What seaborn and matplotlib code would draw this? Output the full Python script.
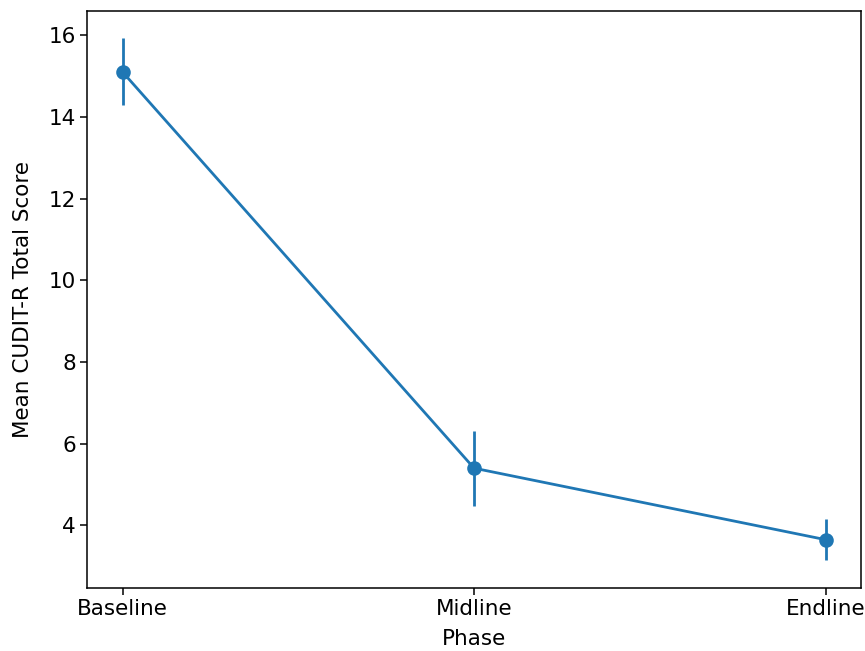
import matplotlib
matplotlib.use("Agg")
import matplotlib.pyplot as plt
import seaborn as sns
import numpy as np

# Values
phases = ["Baseline", "Midline", "Endline"]
mean_score = [15.10, 5.40, 3.65]
err_low = [14.30, 4.47, 3.15]
err_high = [15.94, 6.32, 4.16]

plt.rcParams["font.family"] = ["DejaVu Sans"]
plt.rcParams["font.size"] = 15.5

fig, ax = plt.subplots(figsize=(8.65, 6.51), dpi=100)
fig.subplots_adjust(left=0.101, right=0.995, top=0.983, bottom=0.097)

color = "#1f77b4"
sns.pointplot(x=phases, y=mean_score, errorbar=None, color=color,
              markersize=9, linewidth=2.0, ax=ax)

mean_arr = np.array(mean_score)
yerr = [mean_arr - np.array(err_low), np.array(err_high) - mean_arr]
ax.errorbar(np.arange(len(phases)), mean_arr, yerr=yerr, fmt="none",
            ecolor=color, elinewidth=2.0, zorder=3)

ax.set_xlim(-0.1, len(phases) - 0.9)
ax.set_ylim(2.47, 16.59)
ax.set_yticks([4, 6, 8, 10, 12, 14, 16])
ax.tick_params(length=4.7, width=1.1)
for s in ax.spines.values():
    s.set_linewidth(1.1)
ax.set_xlabel("Phase", labelpad=7)
ax.set_ylabel("Mean CUDIT-R Total Score", labelpad=11)

fig.savefig("out.png", dpi=100)
